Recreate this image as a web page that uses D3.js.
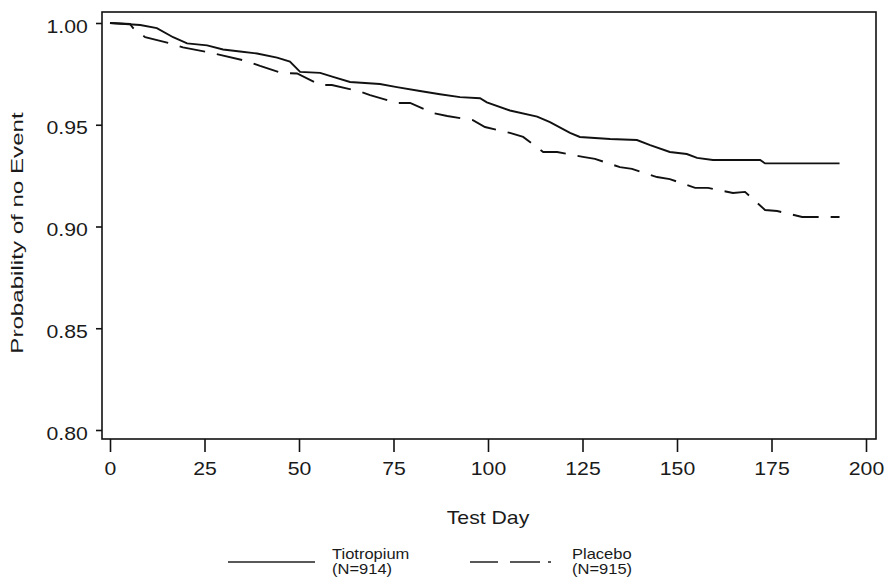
<!DOCTYPE html>
<html lang="en">
<head>
	<meta charset="UTF-8">
	<title>Probability of no Event</title>
	<script src="https://cdn.jsdelivr.net/npm/d3@7/dist/d3.min.js"></script>
	<style>
		body { margin: 0; background: #fff; }
		text { font-family: "Liberation Sans", Arial, sans-serif; fill: #1a1a1a; }
	</style>
</head>
<body>
	<div id="vis"></div>

	<script>
		var width = 886;
		var height = 586;

		// Kaplan-Meier estimates: [day, probability]
		var tiotropium = [
			[0, 1.000], [8, 0.999], [12.4, 0.9975], [16.7, 0.993], [20.4, 0.990],
			[25.7, 0.989], [29.9, 0.987], [34.4, 0.986], [38.9, 0.985], [44.2, 0.983],
			[47.6, 0.981], [50.3, 0.976], [55.6, 0.9755], [59, 0.9735], [63.5, 0.971],
			[71.4, 0.970], [75.9, 0.9685], [82, 0.9666], [87.3, 0.965], [92.6, 0.9636],
			[97.9, 0.963], [99.7, 0.961], [105.8, 0.957], [113, 0.954], [116.4, 0.9513],
			[121.7, 0.946], [124.3, 0.944], [132.3, 0.943], [139.4, 0.9425], [142.9, 0.940],
			[148.1, 0.9366], [152.6, 0.9356], [155.3, 0.9337], [159.5, 0.9327], [172, 0.9327],
			[173.3, 0.931], [193, 0.931]
		];
		var placebo = [
			[0, 1.000], [5.3, 0.9995], [6.1, 0.9975], [9.3, 0.993], [15.9, 0.990],
			[19.3, 0.988], [25.9, 0.9857], [29.1, 0.9843], [36.2, 0.9813], [39.7, 0.9789],
			[45.5, 0.9754], [49.5, 0.9752], [55.6, 0.9695], [58.7, 0.9695], [65.6, 0.9666],
			[68.8, 0.9646], [75.9, 0.9607], [79.4, 0.9607], [85.4, 0.9558], [89.2, 0.9543],
			[96, 0.9523], [99.2, 0.9489], [105.8, 0.946], [109.3, 0.944], [114.6, 0.9366],
			[118.3, 0.9366], [125.1, 0.9342], [128.3, 0.9332], [134.9, 0.9292], [138.1, 0.9283],
			[144.7, 0.9243], [148.1, 0.9233], [154.8, 0.919], [158.2, 0.919], [164.8, 0.9165],
			[168, 0.917], [173.3, 0.9081], [176.5, 0.9076], [183.1, 0.9047], [193, 0.9047]
		];

		var xTicks = [0, 25, 50, 75, 100, 125, 150, 175, 200];
		var yTicks = [0.80, 0.85, 0.90, 0.95, 1.00];

		var legendNames = ["Tiotropium", "Placebo"];
		var legendCounts = ["(N=914)", "(N=915)"];

		// the scan is a bit wider than tall, so the lettering is stretched sideways
		var stretch = "scale(1.18,1)";

		var frame = { left: 102, top: 12, right: 876, bottom: 439 };

		var x = d3.scaleLinear().domain([0, 200]).range([110, 866]);
		var y = d3.scaleLinear().domain([0.80, 1.00]).range([430, 23]);

		var svg = d3.select("#vis").append("svg")
				.attr("width", width)
				.attr("height", height);

		// plot frame
		svg.append("rect")
			.attr("x", frame.left)
			.attr("y", frame.top)
			.attr("width", frame.right - frame.left)
			.attr("height", frame.bottom - frame.top)
			.attr("fill", "none")
			.attr("stroke", "#111")
			.attr("stroke-width", 1.6);

		// y axis
		var yAxis = svg.append("g")
			.attr("transform", "translate(" + frame.left + ",0)")
			.call(d3.axisLeft(y).tickValues(yTicks).tickFormat(d3.format(".2f")).tickSize(6).tickPadding(6));

		// x axis
		var xAxis = svg.append("g")
			.attr("transform", "translate(0," + frame.bottom + ")")
			.call(d3.axisBottom(x).tickValues(xTicks).tickSize(13).tickPadding(10));

		[xAxis, yAxis].forEach(function(ax) {
			ax.select(".domain").remove();
			ax.selectAll(".tick line").attr("stroke", "#111").attr("stroke-width", 1.6);
			ax.selectAll(".tick text")
				.attr("fill", "#1a1a1a")
				.style("font-size", "18px")
				.attr("transform", stretch);
		});
		yAxis.selectAll(".tick text").attr("dy", "0.5em");

		// axis titles
		svg.append("g")
			.attr("transform", "translate(" + x(100) + ",524) " + stretch)
			.append("text")
			.attr("text-anchor", "middle")
			.style("font-size", "18px")
			.text("Test Day");

		// the rotated title runs longer in the scan, so stretch it along its length
		svg.append("text")
			.attr("transform", "translate(23,233) rotate(-90) scale(1.42,1)")
			.attr("text-anchor", "middle")
			.style("font-size", "17px")
			.text("Probability of no Event");

		// survival curves
		var line = d3.line()
			.x(function(d) { return x(d[0]); })
			.y(function(d) { return y(d[1]); });

		svg.append("path")
			.datum(tiotropium)
			.attr("d", line)
			.attr("fill", "none")
			.attr("stroke", "#111")
			.attr("stroke-width", 1.9);

		svg.append("path")
			.datum(placebo)
			.attr("d", line)
			.attr("fill", "none")
			.attr("stroke", "#111")
			.attr("stroke-width", 1.9)
			.attr("stroke-dasharray", "26,12");

		// legend
		svg.append("line")
			.attr("x1", 228).attr("x2", 315)
			.attr("y1", 562).attr("y2", 562)
			.attr("stroke", "#222").attr("stroke-width", 1.5);

		svg.append("line")
			.attr("x1", 470).attr("x2", 552)
			.attr("y1", 562).attr("y2", 562)
			.attr("stroke", "#222").attr("stroke-width", 1.5)
			.attr("stroke-dasharray", "28,12,30,8,3,100");

		var legendX = [332, 572];
		legendNames.forEach(function(name, i) {
			var g = svg.append("g")
				.attr("transform", "translate(" + legendX[i] + ",559) " + stretch);
			g.append("text").style("font-size", "14px").text(name);
			g.append("text").attr("y", 15).style("font-size", "14px").text(legendCounts[i]);
		});
	</script>
</body>
</html>
